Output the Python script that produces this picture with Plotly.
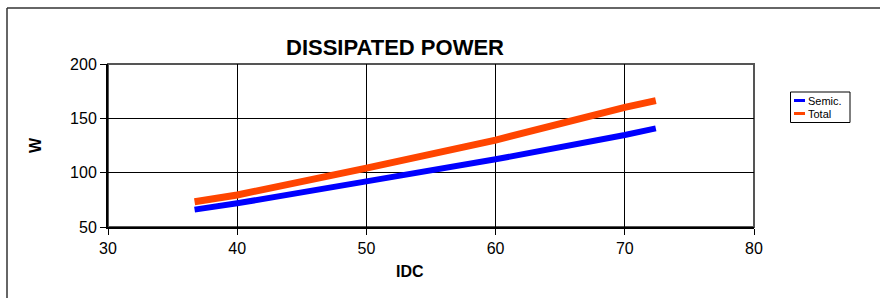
import plotly.graph_objects as go

idc = [36.7, 40, 50, 60, 70, 72.4]
semic = [66.0, 71.8, 92.0, 112.3, 134.7, 140.8]
total = [73.3, 79.5, 104.2, 130.0, 160.1, 166.3]
series_names = ["Semic.", "Total"]
series_colors = ["#0000FF", "#FF4500"]

x_ticks = [30, 40, 50, 60, 70, 80]
y_ticks = [50, 100, 150, 200]

W, H = 883, 298
L, R, T, B = 108, 129, 64, 71
pw, ph = W - L - R, H - T - B

def px(x):
    return (x - L) / pw

def py(y):
    return (H - B - y) / ph

fig = go.Figure()
for ys, nm, col, wd in zip([semic, total], series_names, series_colors, [6, 7]):
    fig.add_trace(go.Scatter(x=idc, y=ys, mode="lines", name=nm, showlegend=False,
                             line=dict(color=col, width=wd)))

axis_common = dict(showgrid=True, gridcolor="#000000", gridwidth=1,
                   showline=True, linecolor="#000000", linewidth=2,
                   ticks="outside", ticklen=6, tickcolor="#000000", tickwidth=1,
                   zeroline=False,
                   tickfont=dict(family="Arial, Liberation Sans", size=16, color="#000000"))

fig.update_xaxes(range=[30, 80], tickvals=x_ticks, **axis_common)
fig.update_yaxes(range=[50, 200], tickvals=y_ticks, **axis_common)

annotations = [
    dict(text="<b>DISSIPATED POWER</b>", x=px(395), y=py(48), xref="paper", yref="paper",
         showarrow=False, font=dict(size=22), xanchor="center", yanchor="middle"),
    dict(text="<b>IDC</b>", x=px(410), y=py(271), xref="paper", yref="paper",
         showarrow=False, font=dict(size=16), xanchor="center", yanchor="middle"),
    dict(text="<b>W</b>", x=px(35), y=py(145), xref="paper", yref="paper",
         showarrow=False, font=dict(size=16), textangle=-90,
         xanchor="center", yanchor="middle"),
]
shapes = [
    dict(type="rect", xref="paper", yref="paper", x0=0, x1=1, y0=0, y1=1,
         line=dict(color="#555555", width=2), layer="below"),
    dict(type="line", xref="paper", yref="paper", x0=px(7), x1=px(880), y0=py(8), y1=py(8),
         line=dict(color="#333333", width=1.5)),
    dict(type="line", xref="paper", yref="paper", x0=px(7), x1=px(7), y0=py(8), y1=py(298),
         line=dict(color="#333333", width=1.5)),
    # legend box
    dict(type="rect", xref="paper", yref="paper", x0=px(790.5), x1=px(850), y0=py(92), y1=py(122.5),
         line=dict(color="#000000", width=1), fillcolor="white"),
]
for i, (nm, col) in enumerate(zip(series_names, series_colors)):
    yc = 100.5 + i * 13
    shapes.append(dict(type="line", xref="paper", yref="paper", x0=px(794), x1=px(805),
                       y0=py(yc), y1=py(yc), line=dict(color=col, width=3)))
    annotations.append(dict(text=nm, x=px(806.5), y=py(yc), xref="paper", yref="paper",
                            showarrow=False, font=dict(size=11), xanchor="left", yanchor="middle",
                            borderpad=0))

fig.update_layout(
    width=W, height=H,
    margin=dict(l=L, r=R, t=T, b=B, pad=0),
    paper_bgcolor="white", plot_bgcolor="white",
    font=dict(family="Arial, Liberation Sans", color="#000000"),
    showlegend=False,
    annotations=annotations,
    shapes=shapes,
)

fig.write_html("out.html", config={"displayModeBar": False},
               post_script="document.body.style.margin='0';document.body.style.overflow='hidden';")
